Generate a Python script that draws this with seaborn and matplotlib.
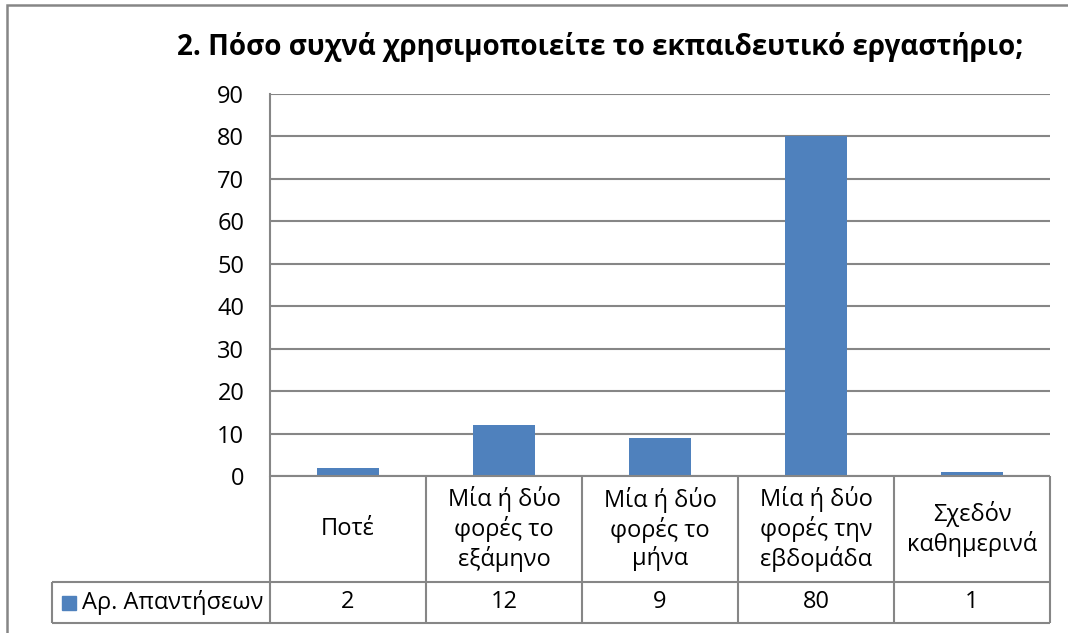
import matplotlib
matplotlib.use("Agg")
import matplotlib.pyplot as plt
import matplotlib.transforms as mtransforms
from matplotlib.patches import Rectangle
import seaborn as sns
import pandas as pd

categories = ["Ποτέ", "Μία ή δύο\nφορές το\nεξάμηνο", "Μία ή δύο\nφορές το\nμήνα",
              "Μία ή δύο\nφορές την\nεβδομάδα", "Σχεδόν\nκαθημερινά"]
values = [2, 12, 9, 80, 1]
series_name = "Αρ. Απαντήσεων"
title = "2. Πόσο συχνά χρησιμοποιείτε το εκπαιδευτικό εργαστήριο;"
yticks = [0, 10, 20, 30, 40, 50, 60, 70, 80, 90]

sns.set_style("white")
plt.rcParams['font.family'] = ['Open Sans', 'DejaVu Sans']

W, H = 1068, 633
fig = plt.figure(figsize=(W / 100, H / 100), dpi=100)
FS = 17
grey = "#868686"
blue = "#4F81BD"

# outer frame
fig.patches.append(Rectangle((7 / W, -0.1), 1.2, 1 - 5 / H + 0.1, transform=fig.transFigure,
                             fill=False, edgecolor=grey, linewidth=1.8, zorder=0))

left, right, top, bottom = 270, 1050, 94, 476
ax = fig.add_axes([left / W, 1 - bottom / H, (right - left) / W, (bottom - top) / H])

df = pd.DataFrame({"cat": range(len(categories)), "val": values})
sns.barplot(data=df, x="cat", y="val", color=blue, width=0.4, saturation=1, ax=ax, zorder=3,
            linewidth=0)
ax.set_xlim(-0.5, len(categories) - 0.5)
ax.set_ylim(0, 90)
ax.set_yticks(yticks)
ax.set_yticklabels([str(t) for t in yticks], fontsize=FS, color="black")
ax.tick_params(axis="y", length=0, pad=18.5)
ax.set_xticks([])
ax.set_xlabel("")
ax.set_ylabel("")
ax.grid(axis="y", color=grey, linewidth=1.5, zorder=0)
for s in ["top", "right", "bottom"]:
    ax.spines[s].set_visible(False)
ax.spines["left"].set_color(grey)
ax.spines["left"].set_linewidth(1.5)

fig.text(600 / W, 1 - 47 / H, title, ha="center", va="center", fontsize=20, fontweight="bold",
         color="black")

# data table below the axes
ph = bottom - top
r1 = -(582 - bottom) / ph
r2 = -(623 - bottom) / ph
trans = mtransforms.blended_transform_factory(ax.transData, ax.transAxes)
n = len(categories)
lk = dict(color=grey, linewidth=1.5, clip_on=False, zorder=5, solid_capstyle="butt")
ax.plot([-0.5, -0.5], [0, r2], transform=trans, **lk)
for i in range(n):
    ax.plot([i + 0.5, i + 0.5], [0, r2], transform=trans, **lk)
    ax.text(i, r1 / 2, categories[i], transform=trans, ha="center", va="center",
            fontsize=FS, linespacing=1.2, color="black")
    ax.text(i, (r1 + r2) / 2, str(values[i]), transform=trans, ha="center", va="center",
            fontsize=FS, color="black")
ax.plot([-0.5, n - 0.5], [0, 0], transform=trans, **lk)
legx = -0.5 - (left - 52) / 156
ax.plot([legx, n - 0.5], [r1, r1], transform=trans, **lk)
ax.plot([legx, n - 0.5], [r2, r2], transform=trans, **lk)
ax.plot([legx, legx], [r1, r2], transform=trans, **lk)
sq = -0.5 - (left - 62) / 156
ax.add_patch(Rectangle((sq, (r1 + r2) / 2 - 7 / ph), 14 / 156, 14 / ph, transform=trans,
                       color=blue, clip_on=False))
ax.text(-0.5 - (left - 82) / 156, (r1 + r2) / 2, series_name, transform=trans,
        ha="left", va="center", fontsize=FS, color="black")

fig.savefig("out.png", dpi=100)
